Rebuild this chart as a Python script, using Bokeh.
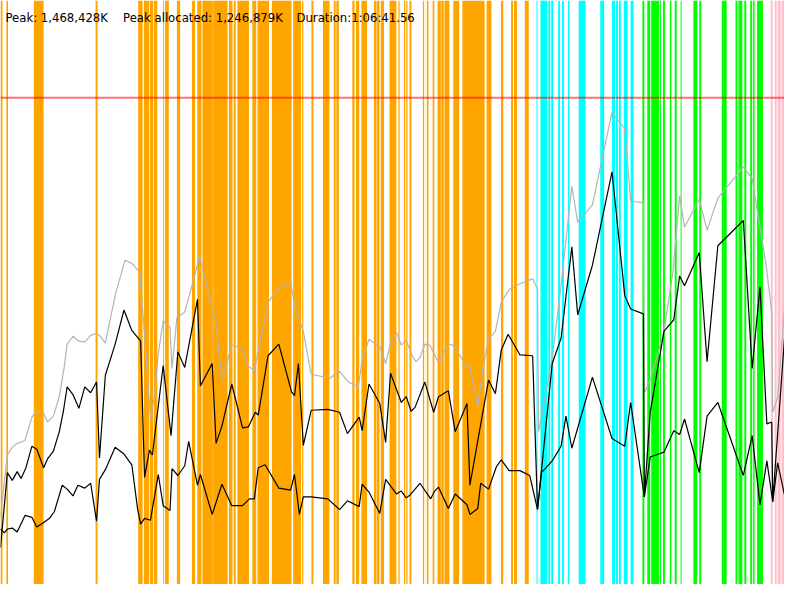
from bokeh.plotting import figure
from bokeh.models import Range1d, Span
from bokeh.embed import file_html
from bokeh.resources import INLINE
from bokeh.core.properties import value

# ---- data (time in 5-second ticks, memory in chart units) ----
gray_t = [0, 7, 12, 17, 25, 32, 37, 43, 48, 54, 60, 65, 68, 74, 80, 86, 92, 98, 102, 107,
          117, 127, 134, 142, 147, 153, 157, 161, 166, 173, 175, 180, 188, 197, 203, 212, 220,
          226, 236, 247, 253, 259, 273, 285, 296, 301, 309, 317, 336, 346, 355, 365, 369, 376,
          387, 393, 398, 404, 409, 414, 420, 424, 428, 433, 438, 447, 453, 458, 463, 473, 477,
          479, 487, 492, 498, 505, 511, 519, 530, 543, 548, 549, 563, 572, 583, 589, 604, 624,
          637, 643, 656, 657, 663, 677, 686, 693, 698, 713, 721, 732, 758, 767, 781, 787, 788,
          793, 800]
gray_mem = [70, 133, 141, 145, 148, 172, 178, 178, 167, 173, 193, 223, 247, 255, 250, 249, 256, 258, 255, 248,
            297, 333, 330, 321, 257, 170, 193, 237, 271, 264, 222, 274, 280, 313, 337, 300, 267,
            210, 246, 242, 224, 220, 290, 306, 310, 283, 260, 216, 212, 219, 208, 203, 230, 252,
            244, 227, 248, 259, 246, 251, 235, 229, 233, 247, 246, 228, 240, 247, 245, 228, 223,
            224, 183, 220, 252, 260, 290, 303, 309, 314, 303, 157, 233, 307, 409, 372, 390, 485,
            468, 394, 392, 197, 210, 260, 320, 399, 367, 396, 364, 397, 429, 417, 330, 280, 177,
            192, 283]

upper_t = [0, 7, 12, 17, 21, 26, 32, 37, 44, 48, 54, 60, 64, 68, 74, 80, 86, 92, 98, 101, 107,
           117, 126, 134, 143, 147, 152, 155, 166, 174, 181, 188, 201, 204, 216, 220, 226,
           236, 247, 253, 260, 263, 273, 284, 297, 300, 304, 309, 317, 334, 346, 354, 366, 369,
           376, 387, 393, 398, 409, 414, 419, 423, 433, 442, 447, 457, 464, 476, 479, 498, 505,
           511, 518, 530, 543, 548, 563, 572, 583, 589, 604, 624, 637, 643, 656, 657, 663, 677,
           687, 693, 698, 713, 721, 732, 758, 767, 775, 782, 787, 788, 800]
upper_mem = [38, 115, 107, 116, 109, 120, 142, 139, 120, 129, 137, 157, 177, 203, 195, 181, 203, 197, 208, 130, 215,
             247, 282, 261, 250, 110, 138, 133, 225, 153, 239, 223, 293, 204, 227, 145, 163,
             206, 161, 162, 177, 174, 235, 247, 198, 194, 227, 143, 179, 180, 177, 155, 172, 158,
             206, 186, 146, 217, 187, 193, 178, 182, 208, 177, 193, 199, 157, 186, 102, 210, 196,
             241, 257, 236, 235, 77, 227, 253, 347, 277, 328, 424, 297, 283, 278, 90, 177, 260,
             272, 317, 307, 341, 229, 348, 374, 222, 306, 165, 167, 85, 253]

lower_t = [0, 4, 7, 12, 17, 25, 32, 37, 43, 50, 55, 63, 68, 74, 79, 86, 92, 98, 101, 107,
           117, 126, 134, 140, 143, 147, 153, 161, 166, 173, 175, 181, 188, 192, 201, 204, 216, 226,
           236, 247, 254, 259, 263, 270, 284, 296, 300, 305, 309, 317, 334, 346, 354, 366, 369,
           376, 387, 393, 404, 409, 414, 418, 428, 439, 443, 447, 457, 464, 476, 479, 487, 490,
           498, 506, 511, 519, 530, 540, 548, 552, 563, 572, 577, 583, 604, 624, 637, 643, 657,
           663, 677, 687, 693, 698, 713, 721, 732, 758, 767, 775, 782, 788, 793, 800]
lower_mem = [57, 53, 57, 58, 54, 71, 69, 59, 63, 68, 75, 102, 98, 91, 102, 99, 104, 65, 108, 118,
             141, 134, 123, 77, 62, 68, 66, 113, 81, 76, 119, 112, 122, 147, 102, 113, 72, 103,
             81, 81, 88, 88, 120, 123, 99, 97, 113, 72, 90, 90, 88, 77, 86, 80, 103,
             95, 73, 108, 93, 96, 89, 92, 104, 88, 96, 100, 78, 93, 82, 72, 78, 104,
             98, 121, 128, 117, 117, 112, 77, 115, 127, 142, 173, 140, 213, 150, 142, 187, 90,
             131, 136, 158, 154, 170, 115, 173, 187, 112, 153, 82, 127, 85, 125, 92]

limit_mem = 500

orange_start = [0, 6, 34, 97, 140.5, 146.3, 152.3, 156.5, 166, 168, 180, 195.3, 200.8, 206, 217,
                233, 238, 241.7, 257, 262.3, 277, 298.7, 307.7, 317.3, 329,
                340, 342.7, 359, 362.7, 368.3, 381, 383.7, 388, 397, 406, 411.7, 414, 417.3, 431,
                435, 441, 446, 449.7, 453, 462, 471.3, 496, 510.7, 521, 524, 535]
orange_end = [2, 7.7, 44, 99, 145, 151.5, 155.8, 160, 167, 171.7, 183.3, 198.5, 205, 216.7, 231.7,
              236.7, 240, 253.5, 261, 274, 297, 306.7, 309, 319.3, 335.7,
              342, 345.3, 361.3, 366, 374, 383.3, 386.7, 391.3, 404, 407.3, 413, 415.3, 419.3, 432.3,
              436.7, 442.7, 449.3, 452.3, 458, 468, 494, 501, 513, 523, 527, 539]

cyan_start = [547, 551, 559, 562, 569, 573, 579, 590, 612, 624, 628, 631, 636, 643]
cyan_end = [548, 558, 561, 564, 571, 575, 580.5, 597, 616, 627, 630, 633, 640, 646]

green_start = [655, 660, 664, 673, 676, 683, 688, 694, 707, 713, 736, 750, 753, 759, 765, 768, 772]
green_end = [657, 663, 672, 674, 678, 684.5, 690, 695, 711, 715, 741, 752, 757, 761, 767, 769.5, 778]

pink_start = [786, 790, 793, 797]
pink_end = [788, 792, 796, 800]

labels = ["Peak: 1,468,428K", "Peak allocated: 1,246,879K", "Duration:1:06:41.56"]

# ---- figure ----
p = figure(width=784, height=584, x_range=Range1d(0, 800), y_range=Range1d(0, 600),
           output_backend="svg", toolbar_location=None, min_border=0,
           x_axis_location=None, y_axis_location=None)
p.grid.visible = False
p.outline_line_color = None
p.background_fill_color = "white"
p.border_fill_color = "white"

for s, e, c in [(orange_start, orange_end, "#FFA500"),
                (cyan_start, cyan_end, "#00FFFF"),
                (green_start, green_end, "#00FF00"),
                (pink_start, pink_end, "#FFC0CB")]:
    p.quad(left=s, right=e, bottom=0, top=600, fill_color=c, line_color=None)

p.add_layout(Span(location=limit_mem, dimension="width", line_color="red",
                  line_alpha=0.55, line_width=2))

p.line(gray_t, gray_mem, line_color="#b4b4b4", line_width=1.2)
p.line(upper_t, upper_mem, line_color="black", line_width=1.2)
p.line(lower_t, lower_mem, line_color="black", line_width=1.2)

p.text(x=[5, 125, 302], y=[582.5] * 3, text=labels, text_font=value("DejaVu Sans"),
       text_font_size="11.7px", text_baseline="alphabetic", text_color="black")

open("out.html", "w").write(file_html(p, INLINE))
